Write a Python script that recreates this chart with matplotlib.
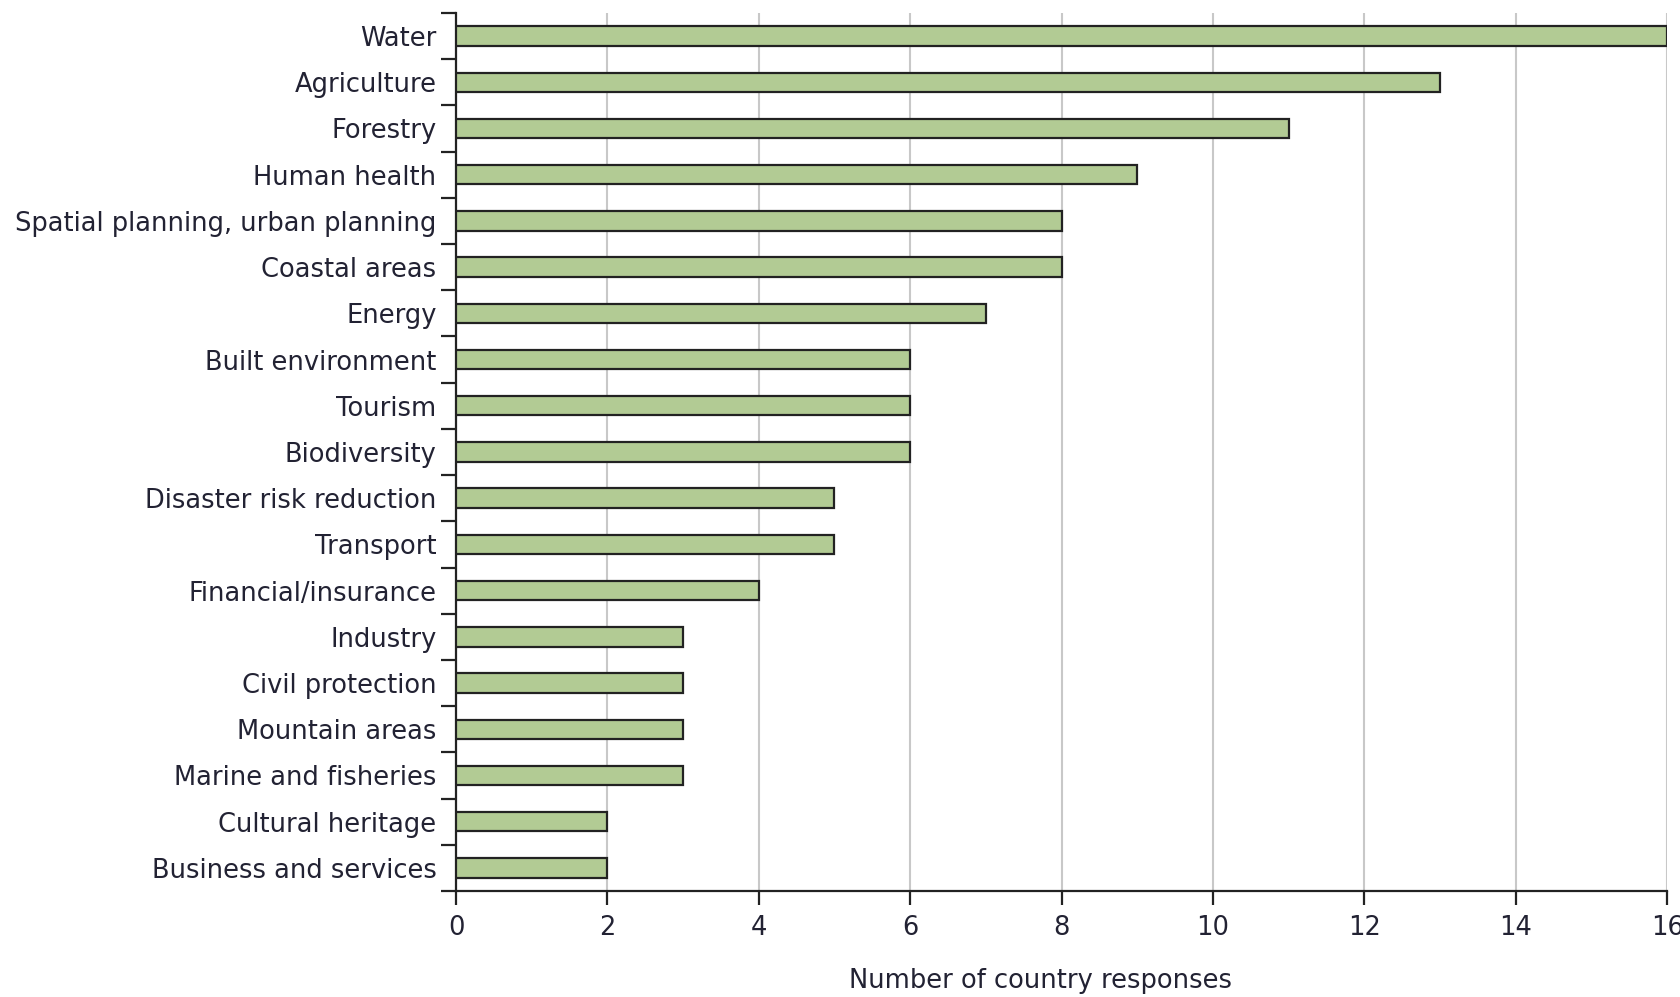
import numpy as np
import matplotlib.pyplot as plt

# Sectors and number of country responses (top to bottom as in the chart)
sectors = [
    "Water", "Agriculture", "Forestry", "Human health",
    "Spatial planning, urban planning", "Coastal areas", "Energy",
    "Built environment", "Tourism", "Biodiversity",
    "Disaster risk reduction", "Transport", "Financial/insurance",
    "Industry", "Civil protection", "Mountain areas",
    "Marine and fisheries", "Cultural heritage", "Business and services",
]
responses = [16, 13, 11, 9, 8, 8, 7, 6, 6, 6, 5, 5, 4, 3, 3, 3, 3, 2, 2]
xticks = [0, 2, 4, 6, 8, 10, 12, 14, 16]

text_col = "#222233"
fs = 18.5
plt.rcParams['font.family'] = ['DejaVu Sans']

fig = plt.figure(figsize=(16.81, 9.97), dpi=100)
ax = fig.add_axes([0.2713, 0.1063, 0.7204, 0.8807])

n = len(sectors)
ypos = np.arange(n)
ax.barh(ypos, responses, height=0.42, color='#b2cb94', edgecolor='#222222',
        linewidth=1.6, zorder=3)

ax.set_ylim(n - 0.5, -0.5)
ax.set_xlim(0, 16)
ax.set_xticks(xticks)
ax.set_xticklabels([str(v) for v in xticks], fontsize=fs, color=text_col)

# category labels at bar centres, tick marks at category boundaries
ax.set_yticks(ypos)
ax.set_yticklabels(sectors, fontsize=fs, color=text_col)
ax.tick_params(axis='y', which='major', length=0, pad=14)
ax.set_yticks(np.arange(n + 1) - 0.5, minor=True)
ax.tick_params(axis='y', which='minor', length=11, width=1.6, color='#222222',
               direction='out')
ax.tick_params(axis='x', length=10, width=1.6, color='#222222', pad=7)

ax.grid(axis='x', color='#c8c8c8', linewidth=1.5, zorder=0)
for s in ['top', 'right']:
    ax.spines[s].set_visible(False)
for s in ['left', 'bottom']:
    ax.spines[s].set_linewidth(1.6)
    ax.spines[s].set_color('#222222')

ax.set_xlabel("Number of country responses", fontsize=fs, color=text_col)
ax.xaxis.set_label_coords(0.483, -0.088)

fig.savefig("out.png", dpi=100)
